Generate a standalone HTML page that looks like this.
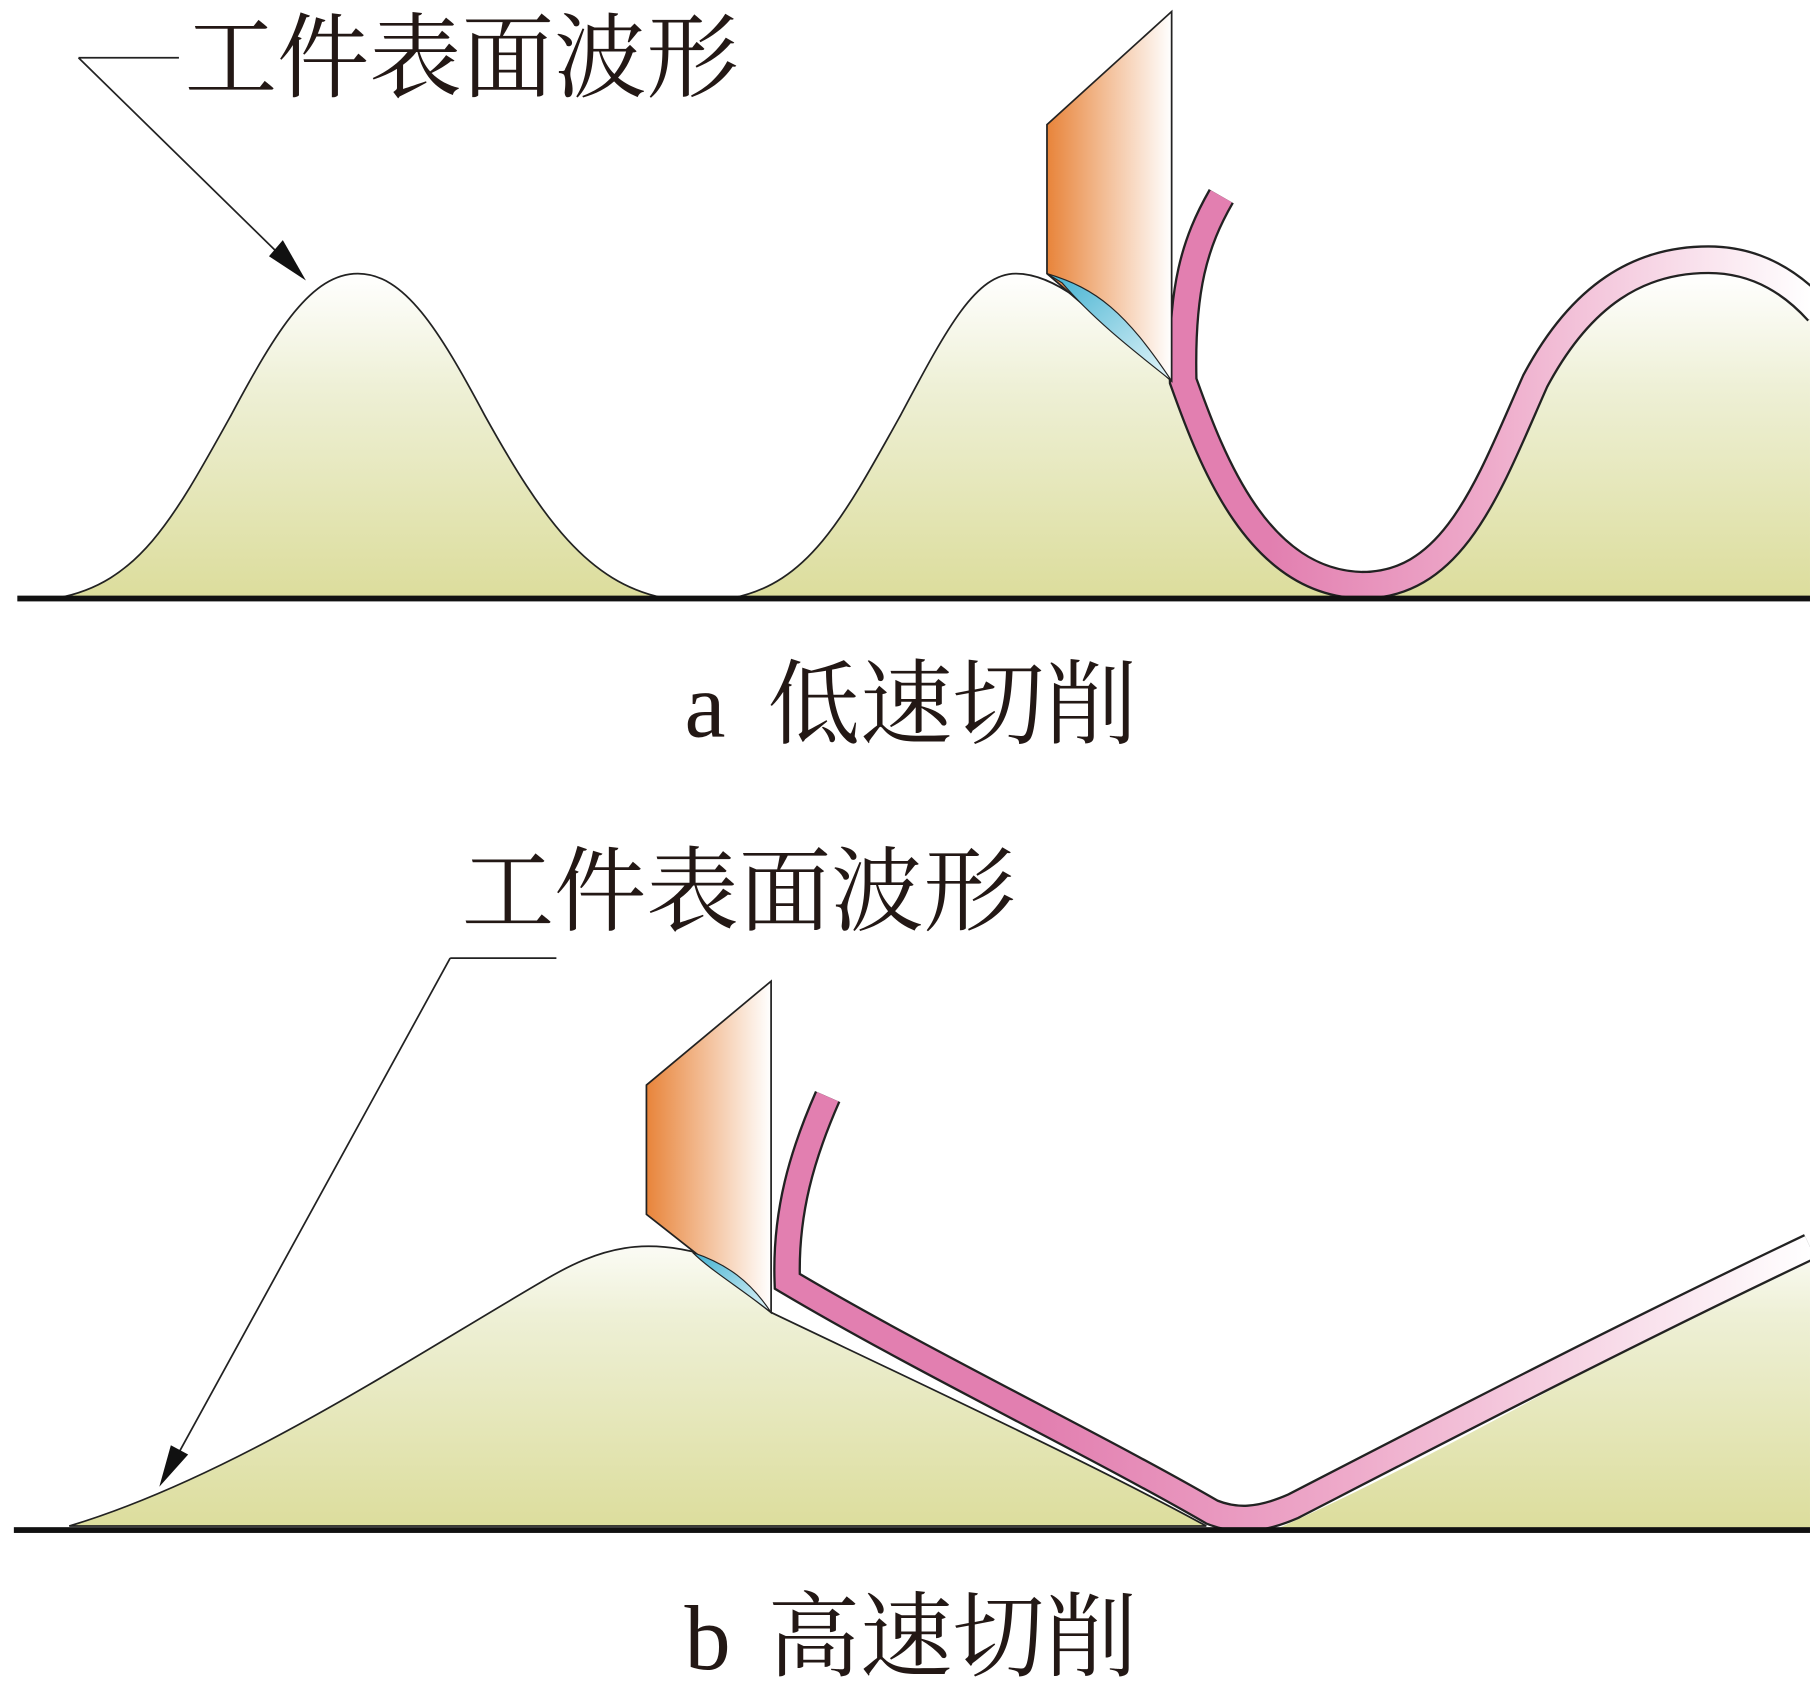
<!DOCTYPE html>
<html><head><meta charset="utf-8"><style>html,body{margin:0;padding:0;background:#fff}svg{display:block}</style></head>
<body>
<svg width="1810" height="1683" viewBox="0 0 1568 1458" xmlns="http://www.w3.org/2000/svg">
<defs>
<linearGradient id="gb" x1="0" y1="1060" x2="0" y2="1325" gradientUnits="userSpaceOnUse"><stop offset="0" stop-color="#fff"/><stop offset="0.3" stop-color="#eef0d6"/><stop offset="1" stop-color="#dcdd9c"/></linearGradient>
<linearGradient id="ga" x1="0" y1="237" x2="0" y2="518" gradientUnits="userSpaceOnUse"><stop offset="0" stop-color="#fff"/><stop offset="0.35" stop-color="#eef0d6"/><stop offset="1" stop-color="#dcdd9c"/></linearGradient>
<linearGradient id="o" x1="0" y1="0" x2="1" y2="0"><stop offset="0" stop-color="#e8843a"/><stop offset="1" stop-color="#fff"/></linearGradient>
<linearGradient id="pa" x1="1100" y1="0" x2="1568" y2="0" gradientUnits="userSpaceOnUse"><stop offset="0" stop-color="#e27fb0"/><stop offset="0.4" stop-color="#eeaaca"/><stop offset="1" stop-color="#fff"/></linearGradient>
<linearGradient id="pb" x1="900" y1="0" x2="1568" y2="0" gradientUnits="userSpaceOnUse"><stop offset="0" stop-color="#e27fb0"/><stop offset="0.4" stop-color="#eeaaca"/><stop offset="1" stop-color="#fff"/></linearGradient>
<linearGradient id="bl" x1="0" y1="0" x2="1" y2="1"><stop offset="0" stop-color="#3fb0d0"/><stop offset="1" stop-color="#e6f6fa"/></linearGradient>
</defs>
<g font-family="'Liberation Serif','Noto Serif CJK SC',serif" fill="#231815">
<text x="160" y="78" font-size="80">工件表面波形</text>
<text x="400" y="800" font-size="80">工件表面波形</text>
<text x="593" y="638" font-size="80">a</text>
<text x="665" y="638" font-size="80">低速切削</text>
<text x="593" y="1446" font-size="80">b</text>
<text x="665" y="1446" font-size="80">高速切削</text>
</g>
<!-- panel a -->
<path d="M50,518 C120,505 150,450 200,360 C240,285 270,237 310,237 C350,237 380,285 420,360 C470,450 510,505 575,518 Z" fill="url(#ga)" stroke="#222" stroke-width="1.5"/>
<path d="M635,518 C700,505 730,450 780,360 C820,285 845,237 880,237 C920,237 960,280 1015,330 C1060,400 1090,500 1180,518 Z" fill="url(#ga)" stroke="#222" stroke-width="1.5"/>
<path d="M1175,518 C1260,510 1290,430 1330,340 C1370,270 1420,237 1480,237 C1520,237 1545,250 1568,275 L1568,518 Z" fill="url(#ga)"/>
<path d="M1058,170 C1035,210 1023,250 1025,330 C1050,400 1090,505 1180,507 C1260,507 1290,420 1330,330 C1370,255 1420,225 1480,225 C1525,225 1555,248 1575,270" fill="none" stroke="#222" stroke-width="25"/>
<path d="M1058,170 C1035,210 1023,250 1025,330 C1050,400 1090,505 1180,507 C1260,507 1290,420 1330,330 C1370,255 1420,225 1480,225 C1525,225 1555,248 1575,270" fill="none" stroke="url(#pa)" stroke-width="21"/>
<path d="M907,108 L1015,10 L1015,330 L907,237 Z" fill="url(#o)" stroke="#222" stroke-width="1.5"/>
<path d="M907,237 C950,250 975,270 1015,330 C990,310 950,280 920,245 Z" fill="url(#bl)" stroke="#222" stroke-width="1"/>
<rect x="15" y="516" width="1553" height="5" fill="#111"/>
<path d="M68,50 L155,50 M68,50 L262,240" stroke="#222" stroke-width="1.5" fill="none"/>
<path d="M265,243 L233,222 L245,208 Z" fill="#111"/>
<!-- panel b -->
<path d="M60,1322 C200,1280 350,1180 470,1110 C520,1080 560,1070 620,1090 L668,1137 C800,1200 950,1270 1045,1322 Z" fill="url(#gb)" stroke="#222" stroke-width="1.5"/>
<path d="M1105,1325 C1250,1260 1400,1170 1568,1085 L1568,1325 Z" fill="url(#gb)"/>
<path d="M717,950 C695,1000 680,1050 682,1110 C800,1180 950,1252 1050,1310 C1070,1318 1090,1318 1120,1305 C1250,1238 1400,1160 1568,1080" fill="none" stroke="#222" stroke-width="24"/>
<path d="M717,950 C695,1000 680,1050 682,1110 C800,1180 950,1252 1050,1310 C1070,1318 1090,1318 1120,1305 C1250,1238 1400,1160 1568,1080" fill="none" stroke="url(#pb)" stroke-width="20"/>
<path d="M560,940 L668,850 L668,1137 L560,1052 Z" fill="url(#o)" stroke="#222" stroke-width="1.5"/>
<path d="M600,1085 C630,1095 650,1110 668,1137 C640,1115 615,1100 600,1085 Z" fill="url(#bl)" stroke="#222" stroke-width="1"/>
<rect x="12" y="1323" width="1556" height="5" fill="#111"/>
<path d="M390,830 L482,830 M390,830 L142,1282" stroke="#222" stroke-width="1.5" fill="none"/>
<path d="M138,1288 L148,1252 L163,1260 Z" fill="#111"/>
</svg>
</body></html>
